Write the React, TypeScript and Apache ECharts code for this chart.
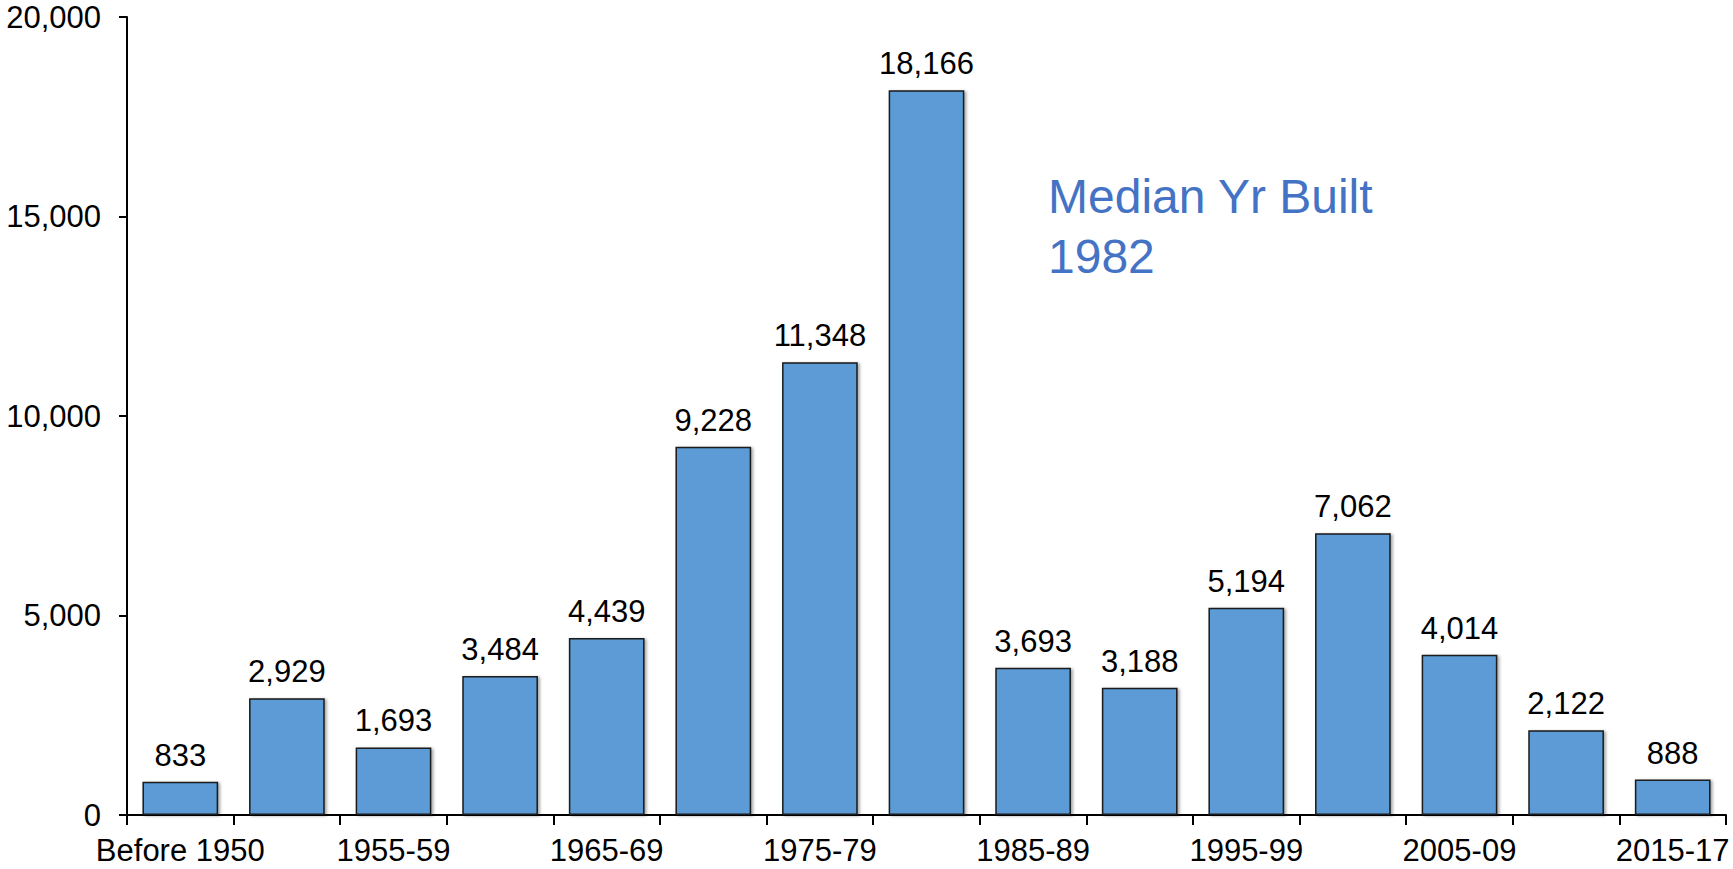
import React, { useEffect, useRef } from "react";
import * as echarts from "echarts";

const categories = [
  "Before 1950", "1950-54", "1955-59", "1960-64", "1965-69", "1970-74", "1975-79",
  "1980-84", "1985-89", "1990-94", "1995-99", "2000-04", "2005-09", "2010-14", "2015-17",
];
const values = [833, 2929, 1693, 3484, 4439, 9228, 11348, 18166, 3693, 3188, 5194, 7062, 4014, 2122, 888];
const yTicks = { min: 0, max: 20000, interval: 5000 };
const annotation = "Median Yr Built\n1982";

export default function App() {
  const ref = useRef<HTMLDivElement>(null);
  useEffect(() => {
    if (!ref.current) return;
    const chart = echarts.init(ref.current, undefined, { renderer: "svg" });
    const font = "'Liberation Sans', Arial, sans-serif";
    chart.setOption({
      animation: false,
      backgroundColor: "#ffffff",
      grid: { left: 127, top: 17, right: 7, bottom: 54, containLabel: false },
      xAxis: {
        type: "category",
        data: categories,
        axisLine: { lineStyle: { color: "#000", width: 2 } },
        axisTick: { show: true, alignWithLabel: false, interval: 0, length: 10, lineStyle: { color: "#000", width: 2 } },
        axisLabel: { interval: 1, color: "#000", fontSize: 31, fontFamily: font, margin: 20 },
      },
      yAxis: {
        type: "value",
        min: yTicks.min,
        max: yTicks.max,
        interval: yTicks.interval,
        splitLine: { show: false },
        axisLine: { show: true, lineStyle: { color: "#000", width: 2 } },
        axisTick: { show: true, length: 8, lineStyle: { color: "#000", width: 2 } },
        axisLabel: {
          color: "#000",
          fontSize: 31,
          fontFamily: font,
          margin: 26,
          formatter: (v: number) => v.toLocaleString("en-US"),
        },
      },
      series: [
        {
          type: "bar",
          data: values,
          barCategoryGap: "29%",
          itemStyle: {
            color: "#5B9BD5",
            borderColor: "#1a1a1a",
            borderWidth: 1.5,
            shadowColor: "rgba(0,0,0,0.35)",
            shadowBlur: 3,
            shadowOffsetX: 2,
            shadowOffsetY: 1,
          },
          label: {
            show: true,
            position: "top",
            distance: 11,
            color: "#000",
            fontSize: 31,
            fontFamily: font,
            formatter: (p: any) => Number(p.value).toLocaleString("en-US"),
          },
        },
      ],
      graphic: [
        {
          type: "text",
          left: 1048,
          top: 166,
          style: {
            text: annotation,
            fill: "#4472C4",
            fontSize: 48,
            lineHeight: 60,
            fontFamily: font,
          },
        },
      ],
    });
    return () => chart.dispose();
  }, []);
  return (
    <div
      ref={ref}
      style={{ position: "fixed", left: 0, top: 0, width: 1733, height: 869 }}
    />
  );
}
